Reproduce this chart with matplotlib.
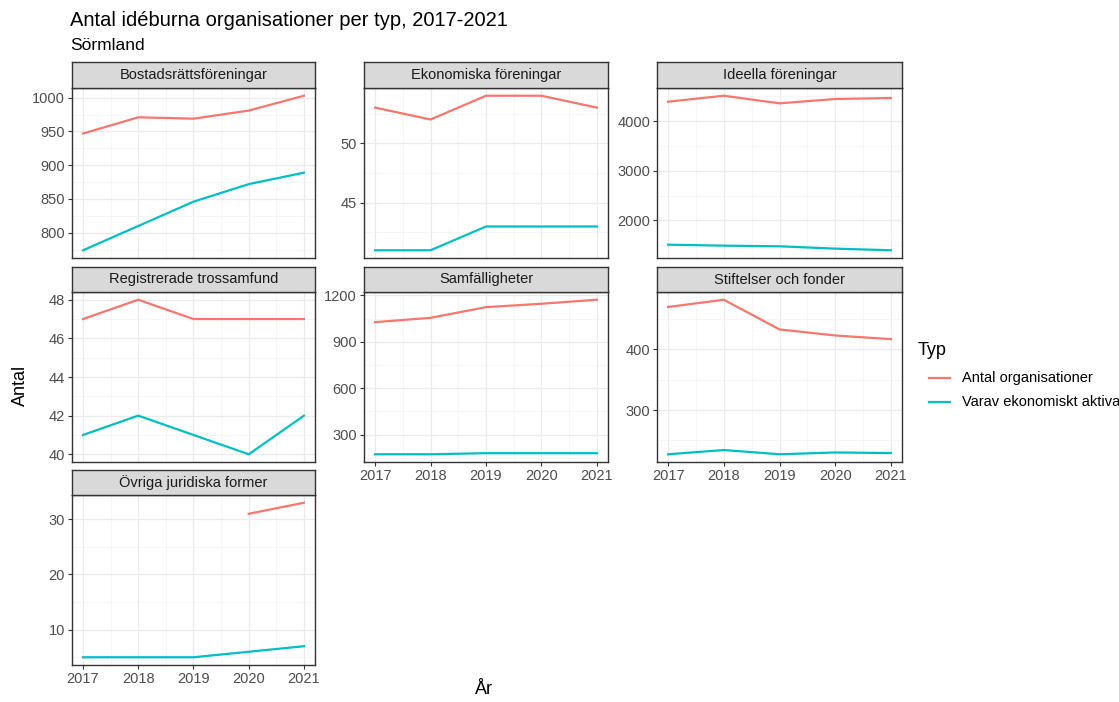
import numpy as np
import matplotlib.pyplot as plt
from matplotlib.lines import Line2D

plt.rcParams['font.family'] = ['Liberation Sans', 'DejaVu Sans']

years = [2017, 2018, 2019, 2020, 2021]

panels = ["Bostadsrättsföreningar", "Ekonomiska föreningar", "Ideella föreningar",
          "Registrerade trossamfund", "Samfälligheter", "Stiftelser och fonder",
          "Övriga juridiska former"]

antal_org = [
    [947, 971, 969, 981, 1003],
    [53, 52, 54, 54, 53],
    [4393, 4513, 4360, 4447, 4467],
    [47, 48, 47, 47, 47],
    [1027, 1055, 1124, 1146, 1172],
    [470, 482, 433, 423, 417],
    [np.nan, np.nan, np.nan, 31, 33],
]

varav_aktiva = [
    [774, 810, 846, 872, 889],
    [41, 41, 43, 43, 43],
    [1513, 1493, 1480, 1433, 1400],
    [41, 42, 41, 40, 42],
    [173, 173, 180, 180, 180],
    [227, 234, 227, 230, 229],
    [5, 5, 5, 6, 7],
]

y_ticks = [
    [800, 850, 900, 950, 1000],
    [45, 50],
    [2000, 3000, 4000],
    [40, 42, 44, 46, 48],
    [300, 600, 900, 1200],
    [300, 400],
    [10, 20, 30],
]

series_names = ["Antal organisationer", "Varav ekonomiskt aktiva"]
colors = ["#F8766D", "#00BFC4"]

W, H = 1119, 702
fig = plt.figure(figsize=(W / 100, H / 100), dpi=100)

col_x = [(72, 315), (364, 608), (657, 902)]
rows = [(62, 88, 258), (267, 292, 462), (470, 495, 665)]
bottom_panels = {4, 5, 6}


def frac(x0, y0, x1, y1):
    return [x0 / W, 1 - y1 / H, (x1 - x0) / W, (y1 - y0) / H]


for i, name in enumerate(panels):
    r, c = divmod(i, 3)
    x0, x1 = col_x[c]
    st, pt, pb = rows[r]
    ax = fig.add_axes(frac(x0, pt, x1, pb))
    ax.set_facecolor("white")
    ax.plot(years, antal_org[i], color=colors[0], lw=1.6)
    ax.plot(years, varav_aktiva[i], color=colors[1], lw=1.6)

    yt = y_ticks[i]
    step = yt[1] - yt[0]
    minor = [v + step / 2 for v in [yt[0] - step] + yt]
    ax.set_yticks(yt)
    ax.set_yticks(minor, minor=True)
    ax.set_xticks(years)
    ax.set_xticks([y + 0.5 for y in years[:-1]], minor=True)

    # ggplot-style 5% expansion, set after the ticks so they don't widen it
    vals = np.array(antal_org[i] + varav_aktiva[i], dtype=float)
    lo, hi = np.nanmin(vals), np.nanmax(vals)
    pad = (hi - lo) * 0.05
    ax.set_ylim(lo - pad, hi + pad)
    ax.set_xlim(2016.8, 2021.2)

    ax.grid(True, which="major", color="#EBEBEB", lw=0.9)
    ax.grid(True, which="minor", color="#F3F3F3", lw=0.5)
    ax.set_axisbelow(True)
    ax.tick_params(which="minor", length=0)
    ax.tick_params(which="major", length=3, color="#333333", labelsize=10.5,
                   labelcolor="#4D4D4D", pad=2)
    if i not in bottom_panels:
        ax.tick_params(axis="x", length=0, labelbottom=False)
    for s in ax.spines.values():
        s.set_color("#333333")
        s.set_linewidth(1.0)

    sax = fig.add_axes(frac(x0, st, x1, pt))
    sax.set_facecolor("#D9D9D9")
    sax.set_xticks([])
    sax.set_yticks([])
    for s in sax.spines.values():
        s.set_color("#333333")
        s.set_linewidth(1.0)
    sax.text(0.5, 0.5, name, ha="center", va="center", fontsize=10.5,
             color="#1A1A1A", transform=sax.transAxes)

fig.text(70 / W, 1 - 20 / H, "Antal idéburna organisationer per typ, 2017-2021",
         fontsize=14.5, va="center", ha="left", color="black")
fig.text(70 / W, 1 - 46 / H, "Sörmland", fontsize=12.5, va="center", ha="left")
fig.text(20 / W, 1 - 385 / H, "Antal", rotation=90, fontsize=13, va="center", ha="center")
fig.text(484 / W, 1 - 690 / H, "År", fontsize=13, va="center", ha="center")

# legend drawn by hand in pixel positions
fig.text(918 / W, 1 - 350 / H, "Typ", fontsize=13, va="center", ha="left")
for k, (name, col) in enumerate(zip(series_names, colors)):
    yk = 1 - (378 + 24 * k) / H
    fig.add_artist(Line2D([929 / W, 950 / W], [yk, yk], color=col, lw=1.6,
                          transform=fig.transFigure))
    fig.text(962 / W, yk, name, fontsize=10.5, va="center", ha="left")

fig.savefig("out.png", dpi=100)
